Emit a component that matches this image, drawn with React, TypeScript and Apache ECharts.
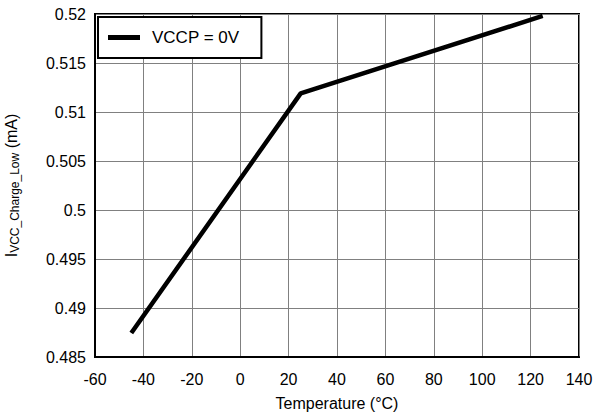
import React, { useEffect, useRef } from "react";
import * as echarts from "echarts";

const temperatures = [-45, 25, 125];
const currentVCCP0V = [0.48745, 0.5119, 0.5198];
const seriesName = "VCCP = 0V";
const xTicks = { min: -60, max: 140, interval: 20 };
const yTicks = { min: 0.485, max: 0.52, interval: 0.005 };

export default function App() {
  const ref = useRef<HTMLDivElement>(null);
  useEffect(() => {
    if (!ref.current) return;
    const chart = echarts.init(ref.current, null, { renderer: "svg" });
    const font = "Liberation Sans, Arial, sans-serif";
    chart.setOption({
      animation: false,
      backgroundColor: "#fff",
      grid: {
        left: 95,
        right: 26,
        top: 14,
        bottom: 57,
        containLabel: false,
        outerBoundsMode: "none",
        show: true,
        borderColor: "#000",
        borderWidth: 2,
        backgroundColor: "transparent",
      },
      legend: {
        left: 98,
        top: 17,
        orient: "vertical",
        data: [{ name: seriesName, icon: "rect" }],
        itemWidth: 32,
        itemHeight: 5,
        padding: [12, 22, 12, 10],
        borderColor: "#000",
        borderWidth: 2,
        backgroundColor: "#fff",
        textStyle: {
          fontFamily: font,
          fontSize: 17,
          color: "#000",
          padding: [0, 0, 0, 7],
        },
      },
      xAxis: {
        type: "value",
        min: xTicks.min,
        max: xTicks.max,
        interval: xTicks.interval,
        name: "Temperature (°C)",
        nameLocation: "middle",
        nameGap: 38,
        nameTextStyle: { fontFamily: font, fontSize: 16, color: "#000" },
        axisLine: { show: true, onZero: false, lineStyle: { color: "#000", width: 2 } },
        axisTick: { show: false },
        axisLabel: { fontFamily: font, fontSize: 16, color: "#000", margin: 14 },
        splitLine: { show: true, lineStyle: { color: "#808080", width: 1 } },
      },
      yAxis: {
        type: "value",
        min: yTicks.min,
        max: yTicks.max,
        interval: yTicks.interval,
        name: "{main|I}{sub|VCC_Charge_Low}{main| (mA)}",
        nameLocation: "middle",
        nameGap: 74,
        nameRotate: 90,
        nameTextStyle: {
          fontFamily: font,
          color: "#000",
          rich: {
            main: { fontFamily: font, fontSize: 16, color: "#000" },
            sub: { fontFamily: font, fontSize: 12, color: "#000", verticalAlign: "bottom", padding: [8, 0, 0, 0] },
          },
        },
        axisLine: { show: true, onZero: false, lineStyle: { color: "#000", width: 2 } },
        axisTick: { show: false },
        axisLabel: {
          fontFamily: font,
          fontSize: 16,
          color: "#000",
          margin: 9,
          formatter: (v: number) => String(parseFloat(v.toFixed(3))),
        },
        splitLine: { show: true, lineStyle: { color: "#808080", width: 1 } },
      },
      series: [
        {
          name: seriesName,
          type: "line",
          data: temperatures.map((t, i) => [t, currentVCCP0V[i]]),
          showSymbol: false,
          symbol: "none",
          itemStyle: { color: "#000" },
          lineStyle: { color: "#000", width: 4.5 },
        },
      ],
    });
    return () => chart.dispose();
  }, []);
  return <div ref={ref} style={{ width: 605, height: 414, position: "absolute", left: 0, top: 0 }} />;
}
